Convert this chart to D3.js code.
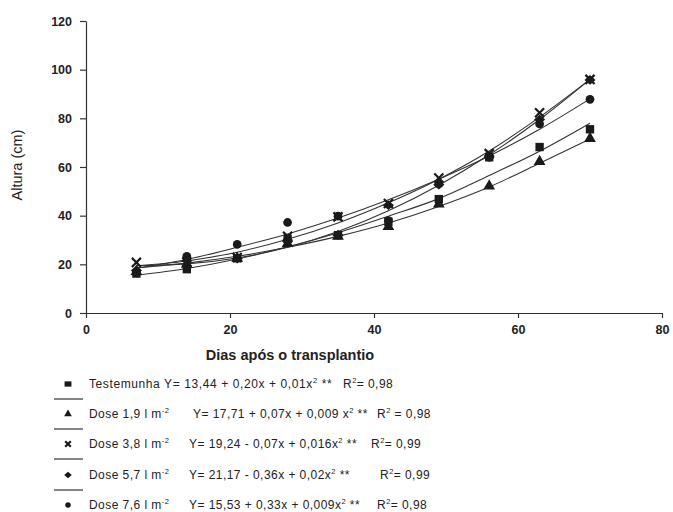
<!DOCTYPE html>
<html><head><meta charset="utf-8">
<script src="https://cdn.jsdelivr.net/npm/d3@7"></script>
<style>body{margin:0;background:#fff}svg{display:block}</style>
</head><body>
<svg id="c" width="673" height="512"></svg>
<script>
// ---- data ----
const days = [7, 14, 21, 28, 35, 42, 49, 56, 63, 70];
const xTicks = [0, 20, 40, 60, 80];
const yTicks = [0, 20, 40, 60, 80, 100, 120];

const obsTestemunha = [16.2, 18.0, 22.5, 30.5, 32.0, 37.5, 46.8, 64.0, 68.2, 75.5];
const obsDose19     = [17.0, 20.0, 22.5, 28.5, 31.5, 35.5, 44.8, 52.2, 62.2, 71.7];
const obsDose38     = [20.8, 21.0, 22.8, 31.5, 39.5, 45.0, 55.5, 65.5, 82.3, 96.0];
const obsDose57     = [17.5, 21.5, 22.3, 29.5, 32.0, 44.3, 52.7, 64.5, 79.5, 95.8];
const obsDose76     = [16.8, 23.3, 28.2, 37.2, 39.8, 38.0, 53.0, 64.0, 77.7, 87.8];

const fitTestemunha = [15.5, 18.3, 22.2, 27.2, 33.0, 39.8, 47.0, 56.5, 66.5, 78.0];
const fitDose19     = [18.6, 20.5, 23.3, 27.0, 31.5, 37.0, 43.8, 51.8, 61.5, 71.5];
const fitDose38     = [19.4, 21.4, 25.0, 30.3, 37.0, 45.3, 55.0, 66.6, 80.5, 96.0];
const fitDose57     = [19.5, 20.2, 22.6, 27.0, 33.5, 42.0, 52.5, 65.0, 79.5, 96.0];
const fitDose76     = [18.4, 22.0, 27.0, 32.5, 39.0, 46.5, 55.0, 64.5, 75.5, 88.0];

const seriesNames = ["Testemunha", "Dose 1,9 l m", "Dose 3,8 l m", "Dose 5,7 l m", "Dose 7,6 l m"];
const seriesShapes = ["square", "triangle", "x", "diamond", "circle"];
const eqConst = ["Y= 13,44 + 0,20x + 0,01x", "Y= 17,71 + 0,07x + 0,009 x", "Y= 19,24 - 0,07x + 0,016x", "Y= 21,17 - 0,36x + 0,02x", "Y= 15,53 + 0,33x + 0,009x"];
const r2Labels = ["R", "R", "R", "R", "R"];
const r2Values = ["= 0,98", " = 0,98", "= 0,99", "= 0,99", "= 0,98"];

const obs = [obsTestemunha, obsDose19, obsDose38, obsDose57, obsDose76];
const fits = [fitTestemunha, fitDose19, fitDose38, fitDose57, fitDose76];

// ---- layout ----
const svg = d3.select("#c");
const x = d3.scaleLinear().domain([0, 80]).range([86, 662]);
const y = d3.scaleLinear().domain([0, 120]).range([313, 21]);
const ink = "#1a1a1a";

function sym(shape, size) {
  const map = {square: d3.symbolSquare, triangle: d3.symbolTriangle, x: d3.symbolX, diamond: d3.symbolDiamond2, circle: d3.symbolCircle};
  return d3.symbol().type(map[shape]).size(size)();
}
function drawSym(g, shape, size, cx, cy, sx) {
  const p = g.append("path").attr("d", sym(shape, size)).attr("transform", `translate(${cx},${cy}) scale(${sx || 1},1)`);
  if (shape === "x") p.attr("fill", "none").attr("stroke", ink).attr("stroke-width", 2.2);
  else p.attr("fill", ink);
  return p;
}

// axes
const yAxis = svg.append("g").attr("transform", "translate(86,0)")
  .call(d3.axisLeft(y).tickValues(yTicks).tickSize(6).tickPadding(8).tickSizeOuter(0));
const xAxis = svg.append("g").attr("transform", "translate(0,313)")
  .call(d3.axisBottom(x).tickValues(xTicks).tickSize(5).tickPadding(7).tickSizeOuter(0));
[yAxis, xAxis].forEach(a => {
  a.selectAll("path,line").attr("stroke", "#333").attr("stroke-width", 1.2);
  a.selectAll("text").attr("fill", "#222").attr("font-family", "Liberation Sans, Arial, sans-serif")
    .attr("font-size", 12.5).attr("font-weight", "bold");
});

// titles
svg.append("text").attr("transform", "translate(22,165) rotate(-90)")
  .attr("text-anchor", "middle").attr("font-family", "Liberation Sans, Arial, sans-serif")
  .attr("font-size", 14.5).attr("fill", "#222").text("Altura (cm)");
svg.append("text").attr("x", 290).attr("y", 360)
  .attr("text-anchor", "middle").attr("font-family", "Liberation Sans, Arial, sans-serif")
  .attr("font-size", 14.5).attr("font-weight", "bold").attr("fill", "#222").text("Dias após o transplantio");

// fitted curves
const line = d3.line().x((d, i) => x(days[i])).y(d => y(d)).curve(d3.curveMonotoneX);
const plot = svg.append("g");
fits.forEach(f => {
  plot.append("path").attr("d", line(f)).attr("fill", "none").attr("stroke", "#333").attr("stroke-width", 1.1);
});
// observed points
obs.forEach((o, s) => {
  o.forEach((v, i) => {
    const size = {square: 70, triangle: 60, x: 55, diamond: 60, circle: 60}[seriesShapes[s]];
    drawSym(plot, seriesShapes[s], size, x(days[i]), y(v), seriesShapes[s] === "diamond" ? 1.15 : 1);
  });
});

// legend
const rowY = [384, 414, 444, 475, 505];
const sepY = [399, 429, 459, 490];
const leg = svg.append("g").attr("font-family", "Liberation Sans, Arial, sans-serif").attr("fill", "#222").attr("font-size", 12);
sepY.forEach(sy => leg.append("line").attr("x1", 54).attr("x2", 83).attr("y1", sy).attr("y2", sy).attr("stroke", "#333").attr("stroke-width", 1.2));
const eqX = [145, 193, 189, 189, 189];
const r2X = [343, 377, 371, 380, 377];
const legSize = {square: 28, triangle: 26, x: 22, diamond: 26, circle: 24};
const ls = 0.45;
seriesNames.forEach((n, s) => {
  const cy = rowY[s];
  drawSym(leg, seriesShapes[s], legSize[seriesShapes[s]], 68, cy, seriesShapes[s] === "square" ? 1.3 : (seriesShapes[s] === "diamond" ? 1.2 : 1));
  const bl = cy + 4;
  const t = leg.append("text").attr("x", 89).attr("y", bl).attr("letter-spacing", s === 0 ? 0.6 : ls);
  let eqText;
  if (s === 0) {
    t.text(n + " " + eqConst[s]);
    eqText = t;
  } else {
    t.text(n);
    t.append("tspan").attr("font-size", 7.5).attr("dy", -5).text("-2");
    eqText = leg.append("text").attr("x", eqX[s]).attr("y", bl).attr("letter-spacing", ls).text(eqConst[s]);
  }
  eqText.append("tspan").attr("font-size", 7.5).attr("dy", -5).text("2");
  eqText.append("tspan").attr("dy", 5).text(" **");
  const r = leg.append("text").attr("x", r2X[s]).attr("y", bl).attr("letter-spacing", ls).text(r2Labels[s]);
  r.append("tspan").attr("font-size", 7.5).attr("dy", -5).text("2");
  r.append("tspan").attr("dy", 5).text(r2Values[s]);
});
</script>
</body></html>
